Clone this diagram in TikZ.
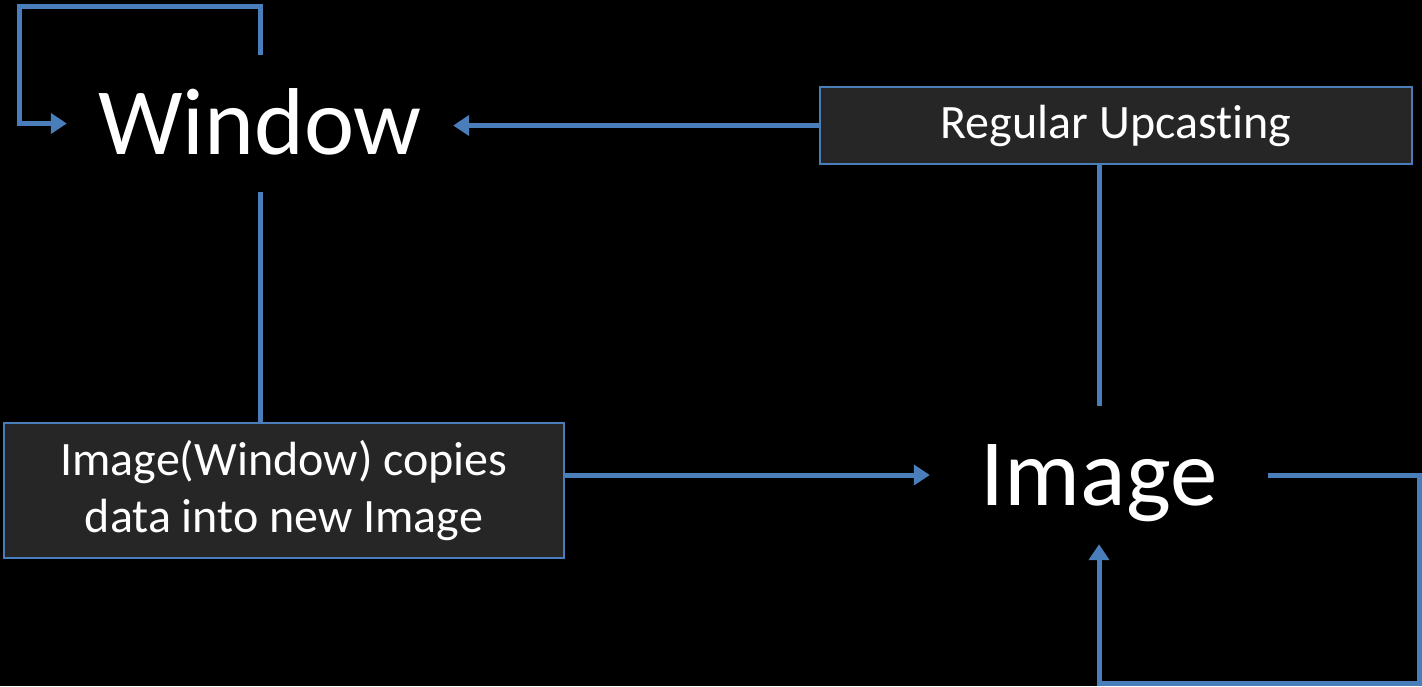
\documentclass[tikz,border=0pt]{standalone}
\usepackage{fontspec}
\setmainfont[Ligatures=NoCommon]{Carlito}
\usetikzlibrary{arrows.meta}
\definecolor{lineblue}{RGB}{74,126,187}
\definecolor{boxfill}{RGB}{38,38,38}
\begin{document}
\begin{tikzpicture}[x=1pt,y=-1pt,
  conn/.style={draw=lineblue,line width=5pt},
  arr/.style={conn,-{Triangle[length=16pt,width=20pt]}},
  bigtext/.style={text=white,font=\fontsize{95}{110}\selectfont,inner sep=0pt,anchor=center,text height=61pt,text depth=0pt},
  labelbox/.style={draw=lineblue,line width=2.2pt,fill=boxfill,text=white,inner sep=0pt,align=center,font=\fontsize{48}{57}\selectfont}]
\fill[black] (0,0) rectangle (1422,686);
\useasboundingbox (0,0) rectangle (1422,686);
\node[bigtext,minimum width=386pt,minimum height=137pt] (window) at (260,123.5) {Window};
\node[bigtext,minimum width=338pt,minimum height=138pt] (image) at (1099,475) {Image};
\node[labelbox,minimum width=592pt,minimum height=77pt] (up) at (1116,125.5) {Regular Upcasting};
\node[labelbox,minimum width=560pt,minimum height=135pt] (cp) at (284,490.5) {Image(Window) copies\\data into new Image};
\coordinate (wl) at (19,6);
\coordinate (ir) at (1419,683);
% window self loop
\draw[arr] (window.north) |- (wl) |- (window.west);
% regular upcasting
\draw[arr] (up.west) -- (up.west -| window.east);
\draw[conn] (image.north) -- (image.north |- up.south);
% window to copy box
\draw[conn] (window.south) -- (window.south |- cp.north);
\draw[arr] (image.west -| cp.east) -- (image.west);
% image self loop
\draw[arr] (image.east) -| (ir) -| (image.south);
\end{tikzpicture}
\end{document}
